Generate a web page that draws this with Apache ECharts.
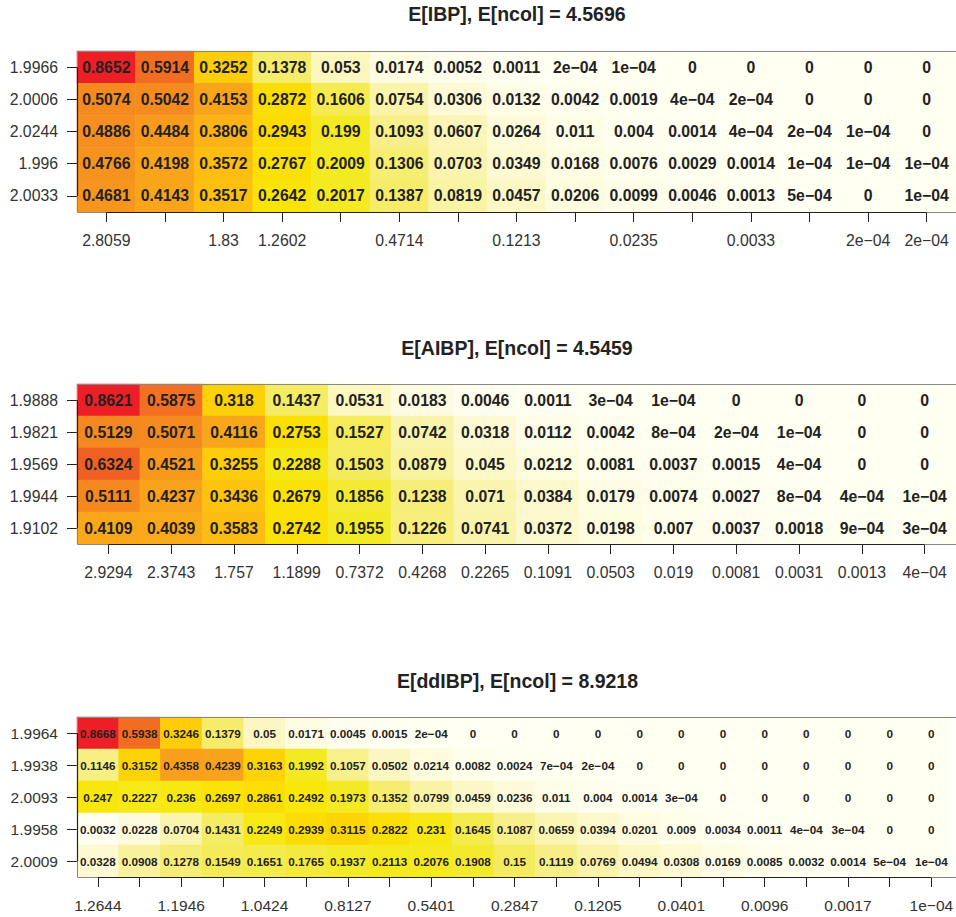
<!DOCTYPE html>
<html>
<head>
<meta charset="utf-8">
<script src="https://cdn.jsdelivr.net/npm/echarts@6/dist/echarts.min.js"></script>
<style>
  html, body { margin: 0; padding: 0; background: #ffffff; }
  #chart { width: 956px; height: 917px; }
</style>
</head>
<body>
<div id="chart"></div>
<script>
const MINUS = '\u2212';

// ---- Panel 1: IBP ----
const ibpTitle = 'E[IBP], E[ncol] = 4.5696';
const ibpRows = ['1.9966', '2.0006', '2.0244', '1.996', '2.0033'];
const ibpCols = ['2.8059', '', '1.83', '1.2602', '', '0.4714', '', '0.1213', '', '0.0235', '', '0.0033', '', '2e−04', '2e−04'];
const ibpValues = [
  [0.8652, 0.5914, 0.3252, 0.1378, 0.053, 0.0174, 0.0052, 0.0011, 0.0002, 0.0001, 0, 0, 0, 0, 0],
  [0.5074, 0.5042, 0.4153, 0.2872, 0.1606, 0.0754, 0.0306, 0.0132, 0.0042, 0.0019, 0.0004, 0.0002, 0, 0, 0],
  [0.4886, 0.4484, 0.3806, 0.2943, 0.199, 0.1093, 0.0607, 0.0264, 0.011, 0.004, 0.0014, 0.0004, 0.0002, 0.0001, 0],
  [0.4766, 0.4198, 0.3572, 0.2767, 0.2009, 0.1306, 0.0703, 0.0349, 0.0168, 0.0076, 0.0029, 0.0014, 0.0001, 0.0001, 0.0001],
  [0.4681, 0.4143, 0.3517, 0.2642, 0.2017, 0.1387, 0.0819, 0.0457, 0.0206, 0.0099, 0.0046, 0.0013, 0.0005, 0, 0.0001]
];

// ---- Panel 2: AIBP ----
const aibpTitle = 'E[AIBP], E[ncol] = 4.5459';
const aibpRows = ['1.9888', '1.9821', '1.9569', '1.9944', '1.9102'];
const aibpCols = ['2.9294', '2.3743', '1.757', '1.1899', '0.7372', '0.4268', '0.2265', '0.1091', '0.0503', '0.019', '0.0081', '0.0031', '0.0013', '4e−04'];
const aibpValues = [
  [0.8621, 0.5875, 0.318, 0.1437, 0.0531, 0.0183, 0.0046, 0.0011, 0.0003, 0.0001, 0, 0, 0, 0],
  [0.5129, 0.5071, 0.4116, 0.2753, 0.1527, 0.0742, 0.0318, 0.0112, 0.0042, 0.0008, 0.0002, 0.0001, 0, 0],
  [0.6324, 0.4521, 0.3255, 0.2288, 0.1503, 0.0879, 0.045, 0.0212, 0.0081, 0.0037, 0.0015, 0.0004, 0, 0],
  [0.5111, 0.4237, 0.3436, 0.2679, 0.1856, 0.1238, 0.071, 0.0384, 0.0179, 0.0074, 0.0027, 0.0008, 0.0004, 0.0001],
  [0.4109, 0.4039, 0.3583, 0.2742, 0.1955, 0.1226, 0.0741, 0.0372, 0.0198, 0.007, 0.0037, 0.0018, 0.0009, 0.0003]
];

// ---- Panel 3: ddIBP ----
const ddibpTitle = 'E[ddIBP], E[ncol] = 8.9218';
const ddibpRows = ['1.9964', '1.9938', '2.0093', '1.9958', '2.0009'];
const ddibpCols = ['1.2644', '', '1.1946', '', '1.0424', '', '0.8127', '', '0.5401', '', '0.2847', '', '0.1205', '', '0.0401', '', '0.0096', '', '0.0017', '', '1e−04'];
const ddibpValues = [
  [0.8668, 0.5938, 0.3246, 0.1379, 0.05, 0.0171, 0.0045, 0.0015, 0.0002, 0, 0, 0, 0, 0, 0, 0, 0, 0, 0, 0, 0],
  [0.1146, 0.3152, 0.4358, 0.4239, 0.3163, 0.1992, 0.1057, 0.0502, 0.0214, 0.0082, 0.0024, 0.0007, 0.0002, 0, 0, 0, 0, 0, 0, 0, 0],
  [0.247, 0.2227, 0.236, 0.2697, 0.2861, 0.2492, 0.1973, 0.1352, 0.0799, 0.0459, 0.0236, 0.011, 0.004, 0.0014, 0.0003, 0, 0, 0, 0, 0, 0],
  [0.0032, 0.0228, 0.0704, 0.1431, 0.2249, 0.2939, 0.3115, 0.2822, 0.231, 0.1645, 0.1087, 0.0659, 0.0394, 0.0201, 0.009, 0.0034, 0.0011, 0.0004, 0.0003, 0, 0],
  [0.0328, 0.0908, 0.1278, 0.1549, 0.1651, 0.1765, 0.1937, 0.2113, 0.2076, 0.1908, 0.15, 0.1119, 0.0769, 0.0494, 0.0308, 0.0169, 0.0085, 0.0032, 0.0014, 0.0005, 0.0001]
];

// Heat palette, white (0) through yellow and orange to red (0.9), in steps of 0.05
const heatStops = [
  '#FFFFF2', '#FCF7C2', '#F8F093', '#F5EB5E', '#F3EA22', '#F9E70A', '#FDDA02',
  '#FDC010', '#FAAA1A', '#F89A1D', '#F58C1F', '#F47C21', '#F26A22', '#F15A24',
  '#F04A25', '#EF3B26', '#EE2D27', '#ED2027', '#EC1C24'
];

const FONT = '"Liberation Sans", Arial, Helvetica, sans-serif';

const panels = [
  { title: ibpTitle, rows: ibpRows, cols: ibpCols, values: ibpValues, cellFont: 15.8, axisFont: 15.8,
    grid: { left: 77, top: 51, width: 880, height: 161 }, titleY: 14 },
  { title: aibpTitle, rows: aibpRows, cols: aibpCols, values: aibpValues, cellFont: 15.8, axisFont: 15.8,
    grid: { left: 77, top: 384, width: 880, height: 160 }, titleY: 348 },
  { title: ddibpTitle, rows: ddibpRows, cols: ddibpCols, values: ddibpValues, cellFont: 11.7, axisFont: 15.5,
    grid: { left: 77, top: 717, width: 881, height: 160 }, titleY: 681 }
];

function fmt(v) {
  if (v === 0) return '0';
  if (v < 0.001) return Math.round(v * 1e4) + 'e' + MINUS + '04';
  return String(v);
}

const grids = [], xAxes = [], yAxes = [], series = [];
panels.forEach((p, i) => {
  grids.push(Object.assign({ show: false, containLabel: false }, p.grid));
  xAxes.push({
    type: 'category', gridIndex: i, position: 'bottom',
    data: p.cols.map((_, k) => String(k)),
    axisLine: { show: false },
    axisTick: { show: true, alignWithLabel: true, interval: 0, length: 10, lineStyle: { color: '#222', width: 1 } },
    axisLabel: { interval: 0, margin: 20, fontSize: p.axisFont, color: '#333', fontFamily: FONT,
      formatter: (v, idx) => p.cols[idx] },
    splitLine: { show: false }
  });
  yAxes.push({
    type: 'category', gridIndex: i, inverse: true,
    data: p.rows.map((_, k) => String(k)),
    axisLine: { show: false },
    axisTick: { show: true, alignWithLabel: true, interval: 0, length: 10, lineStyle: { color: '#222', width: 1 } },
    axisLabel: { interval: 0, margin: 19, fontSize: p.axisFont, color: '#333', fontFamily: FONT,
      formatter: (v, idx) => p.rows[idx] },
    splitLine: { show: false }
  });
  const data = [];
  p.values.forEach((row, r) => row.forEach((v, c) => data.push([c, r, v])));
  series.push({
    type: 'heatmap', xAxisIndex: i, yAxisIndex: i, data: data,
    progressive: 0, animation: false,
    label: { show: true, fontSize: p.cellFont, fontWeight: 'bold', color: '#222', fontFamily: FONT,
      formatter: (prm) => fmt(prm.value[2]) },
    emphasis: { disabled: true }
  });
});

const chart = echarts.init(document.getElementById('chart'), null, { renderer: 'svg' });
chart.setOption({
  animation: false,
  backgroundColor: '#ffffff',
  grid: grids, xAxis: xAxes, yAxis: yAxes, series: series,
  visualMap: [{
    type: 'continuous', show: false, min: 0, max: 0.9, dimension: 2,
    seriesIndex: [0, 1, 2], inRange: { color: heatStops }
  }]
});

// Titles, plot frames and R-style axis lines (first tick to last tick)
const graphics = [];
panels.forEach((p, i) => {
  const g = p.grid;
  graphics.push({
    type: 'text', x: g.left + g.width / 2, y: p.titleY, z: 100,
    style: { text: p.title, fill: '#222', font: 'bold 19.5px ' + FONT, textAlign: 'center', textVerticalAlign: 'middle' }
  });
  graphics.push({
    type: 'rect', z: 100,
    shape: { x: g.left + 0.5, y: g.top + 0.5, width: g.width, height: g.height },
    style: { fill: null, stroke: '#888', lineWidth: 1 }
  });
  const x0 = chart.convertToPixel({ xAxisIndex: i }, '0');
  const x1 = chart.convertToPixel({ xAxisIndex: i }, String(p.cols.length - 1));
  const y0 = chart.convertToPixel({ yAxisIndex: i }, '0');
  const y1 = chart.convertToPixel({ yAxisIndex: i }, String(p.rows.length - 1));
  const yb = g.top + g.height + 0.5;
  const xl = g.left + 0.5;
  graphics.push({ type: 'line', z: 101, shape: { x1: x0, y1: yb, x2: x1, y2: yb }, style: { stroke: '#222', lineWidth: 1.2 } });
  graphics.push({ type: 'line', z: 101, shape: { x1: xl, y1: y0, x2: xl, y2: y1 }, style: { stroke: '#222', lineWidth: 1.2 } });
});
chart.setOption({ graphic: graphics });
</script>
</body>
</html>
